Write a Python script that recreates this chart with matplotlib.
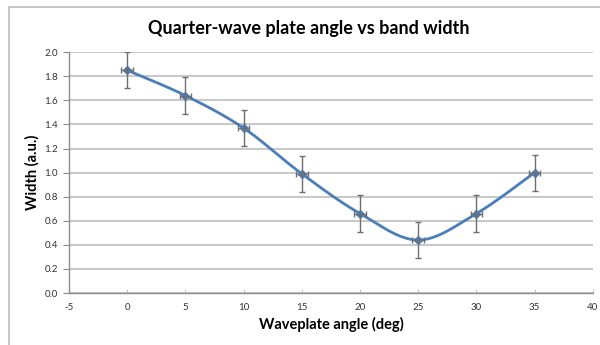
import numpy as np
import matplotlib.pyplot as plt
from matplotlib.patches import Rectangle

plt.rcParams['font.family'] = ['Lato', 'DejaVu Sans']
plt.rcParams['axes.unicode_minus'] = False

angle = [0, 5, 10, 15, 20, 25, 30, 35]
width = [1.85, 1.64, 1.37, 0.99, 0.66, 0.44, 0.66, 1.00]
width_err = [0.15] * 8
angle_err = [0.5] * 8

x_ticks = [-5, 0, 5, 10, 15, 20, 25, 30, 35, 40]
y_ticks = [0.0, 0.2, 0.4, 0.6, 0.8, 1.0, 1.2, 1.4, 1.6, 1.8, 2.0]


def smooth_curve(xs, ys, n=30):
    # Bezier smoothing through every point, control points at 1/6 of neighbour span
    p = np.column_stack([xs, ys]).astype(float)
    p = np.vstack([p[0], p, p[-1]])
    t = np.linspace(0, 1, n)[:, None]
    out = []
    for i in range(1, len(p) - 2):
        p0, p1, p2, p3 = p[i - 1], p[i], p[i + 1], p[i + 2]
        c1 = p1 + (p2 - p0) / 6
        c2 = p2 - (p3 - p1) / 6
        seg = ((1 - t) ** 3) * p1 + 3 * ((1 - t) ** 2) * t * c1 + 3 * (1 - t) * t ** 2 * c2 + t ** 3 * p2
        out.append(seg if i == 1 else seg[1:])
    out = np.vstack(out)
    return out[:, 0], out[:, 1]


fig = plt.figure(figsize=(6, 3.45), dpi=100)
fig.patches.append(Rectangle((9 / 600, -0.2), 1.2, 1.2 - 7 / 345, transform=fig.transFigure,
                             fill=False, edgecolor='#bdbdbd', linewidth=1.2))

ax = fig.add_axes([0.115, 0.1507, 0.873, 0.698])

ax.yaxis.grid(True, color='#c4c4c4', linewidth=1.3)
ax.set_axisbelow(True)

sx, sy = smooth_curve(angle, width)
ax.plot(sx, sy, color='#4a7ebb', linewidth=2.0, zorder=3)
ax.plot(angle, width, linestyle='none', marker='D', markersize=4.5, color='#4a7ebb', zorder=4)

eb = ax.errorbar(angle, width, yerr=width_err, xerr=angle_err, fmt='none', ecolor='#6e6e6e',
                 elinewidth=1.0, capsize=2.5, capthick=1.0, zorder=5)
for cap in eb[1]:
    cap.set_color('black')

ax.set_xlim(-5, 40)
ax.set_ylim(0, 2.0)
ax.set_xticks(x_ticks)
ax.set_yticks(y_ticks)
ax.set_yticklabels([f'{v:.1f}' for v in y_ticks])

for s in ['top', 'right']:
    ax.spines[s].set_visible(False)
for s in ['left', 'bottom']:
    ax.spines[s].set_color('#8c8c8c')
    ax.spines[s].set_linewidth(1.0)

ax.tick_params(axis='y', direction='out', length=4, color='#8c8c8c', labelsize=7, labelcolor='#333333', pad=4)
ax.tick_params(axis='x', direction='in', length=3, color='#c4c4c4', labelsize=7, labelcolor='#333333', pad=7)

ax.set_xlabel('Waveplate angle (deg)', fontsize=10.5, fontweight='bold', labelpad=4)
ax.set_ylabel('Width (a.u.)', fontsize=10.5, fontweight='bold', labelpad=3)
fig.text(0.515, 0.918, 'Quarter-wave plate angle vs band width', ha='center', va='center',
         fontsize=13, fontweight='bold')

fig.savefig('out.png', dpi=100, facecolor='white')
